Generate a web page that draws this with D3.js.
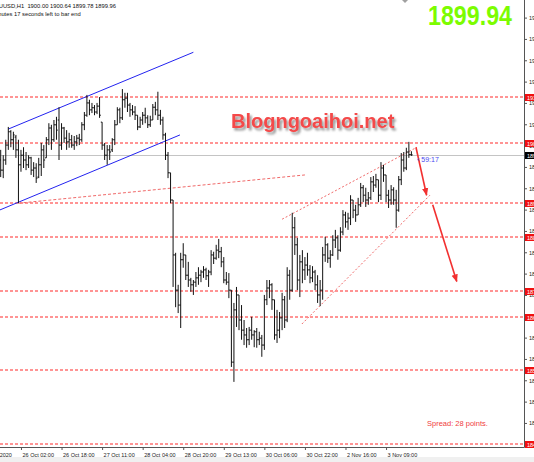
<!DOCTYPE html>
<html>
<head>
<meta charset="utf-8">
<script src="https://cdn.jsdelivr.net/npm/d3@7"></script>
<style>
  body { margin: 0; background: #fff; overflow: hidden; }
  svg { display: block; font-family: 'Liberation Sans', Arial, sans-serif; }
</style>
</head>
<body>
<div id="chart"></div>
<script>
// XAUUSD H1 bars, 23 Oct - 3 Nov 2020
const barHigh = [
  1900.9, 1899.9, 1902.8, 1905.2, 1904.6, 1904.3, 1903.7, 1902.8,
  1900.9, 1901.4, 1900.5, 1899.9, 1899.6, 1898.6, 1898.4, 1899.4,
  1902.2, 1901.8, 1903.3, 1905.9, 1905.6, 1906.5, 1907.1, 1908.9,
  1905.9, 1905.2, 1904.6, 1904.1, 1903.7, 1903.5, 1903.7, 1903.9,
  1906.1, 1908.0, 1911.2, 1910.3, 1909.7, 1909.3, 1909.7, 1910.8,
  1906.1, 1902.2, 1901.8, 1901.8, 1903.1, 1906.5, 1908.9, 1908.8,
  1912.3, 1911.6, 1911.6, 1909.7, 1909.3, 1909.1, 1907.4, 1907.1,
  1908.0, 1908.8, 1907.4, 1907.3, 1909.5, 1909.9, 1911.8, 1908.4,
  1907.1, 1904.1, 1900.5, 1896.6, 1891.5, 1881.6, 1875.6, 1881.6,
  1883.4, 1881.2, 1879.9, 1876.9, 1876.5, 1878.0, 1878.9, 1878.4,
  1879.1, 1878.8, 1878.4, 1882.1, 1881.8, 1883.1, 1884.2, 1882.7,
  1880.8, 1878.0, 1877.8, 1874.6, 1872.2, 1875.2, 1873.7, 1871.8,
  1869.0, 1867.5, 1867.7, 1869.6, 1867.1, 1867.5, 1866.8, 1866.2,
  1873.7, 1876.5, 1876.5, 1875.9, 1872.8, 1870.9, 1870.5, 1874.1,
  1873.5, 1878.9, 1878.4, 1889.1, 1888.3, 1884.4, 1881.2, 1882.1,
  1880.8, 1881.6, 1879.3, 1879.1, 1878.4, 1877.4, 1876.5, 1882.7,
  1884.6, 1883.4, 1882.1, 1884.9, 1885.9, 1884.9, 1886.4, 1889.6,
  1889.3, 1889.1, 1892.4, 1891.5, 1890.6, 1891.9, 1894.7, 1894.3,
  1893.8, 1893.0, 1895.8, 1896.0, 1896.4, 1895.3, 1898.6, 1898.1,
  1896.2, 1893.4, 1894.3, 1893.9, 1893.4, 1896.0, 1900.3, 1900.5,
  1901.3, 1902.4, 1900.64
];
const barLow = [
  1895.8, 1895.6, 1898.1, 1900.9, 1901.4, 1900.9, 1899.4, 1890.9,
  1896.8, 1897.5, 1897.1, 1897.5, 1896.2, 1895.8, 1894.7, 1895.6,
  1896.0, 1897.5, 1899.4, 1901.8, 1900.9, 1902.4, 1902.8, 1899.0,
  1900.9, 1902.2, 1900.9, 1901.3, 1901.3, 1900.9, 1901.6, 1901.8,
  1902.4, 1904.6, 1907.1, 1907.4, 1907.8, 1907.4, 1907.6, 1906.9,
  1900.9, 1899.0, 1898.1, 1899.0, 1900.5, 1901.8, 1905.6, 1905.9,
  1906.5, 1908.8, 1908.0, 1907.1, 1907.4, 1906.5, 1904.6, 1905.0,
  1905.6, 1905.9, 1905.0, 1905.2, 1906.5, 1907.4, 1906.5, 1905.6,
  1902.8, 1899.0, 1895.6, 1890.9, 1875.2, 1871.4, 1870.3, 1867.5,
  1878.8, 1876.5, 1875.2, 1874.3, 1873.7, 1875.2, 1875.6, 1876.1,
  1876.9, 1876.5, 1875.2, 1877.4, 1879.5, 1880.3, 1880.6, 1878.9,
  1875.9, 1875.6, 1873.1, 1860.2, 1857.4, 1867.7, 1867.1, 1865.3,
  1864.3, 1863.8, 1864.3, 1865.3, 1863.9, 1863.8, 1864.3, 1862.1,
  1863.4, 1871.8, 1873.1, 1870.9, 1865.3, 1864.7, 1865.6, 1867.1,
  1867.5, 1868.6, 1872.8, 1874.3, 1881.2, 1874.6, 1873.3, 1875.9,
  1876.5, 1877.3, 1875.9, 1876.1, 1874.6, 1872.2, 1871.6, 1872.8,
  1879.9, 1879.7, 1878.8, 1881.0, 1882.5, 1880.3, 1881.8, 1884.9,
  1886.3, 1885.9, 1886.8, 1888.1, 1887.4, 1888.7, 1890.2, 1891.1,
  1890.2, 1890.6, 1891.5, 1893.0, 1893.8, 1891.1, 1891.5, 1894.9,
  1891.1, 1890.0, 1890.6, 1890.6, 1886.3, 1889.3, 1894.3, 1896.8,
  1897.1, 1899.4, 1899.78
];
const barOpen = [
  1899.0, 1897.1, 1899.0, 1901.8, 1904.3, 1902.8, 1903.3, 1900.9,
  1898.1, 1899.9, 1899.0, 1898.1, 1899.4, 1897.1, 1897.5, 1895.8,
  1898.1, 1900.9, 1899.4, 1902.8, 1905.0, 1902.8, 1905.6, 1906.5,
  1901.8, 1905.0, 1903.1, 1902.4, 1902.8, 1901.8, 1902.4, 1903.1,
  1902.8, 1905.6, 1907.4, 1909.7, 1908.4, 1908.8, 1908.0, 1909.1,
  1906.1, 1901.8, 1899.9, 1900.9, 1900.9, 1902.8, 1905.6, 1908.4,
  1906.9, 1910.3, 1910.6, 1909.3, 1908.4, 1908.0, 1907.4, 1905.2,
  1906.5, 1907.4, 1906.9, 1905.6, 1906.5, 1908.9, 1908.4, 1907.4,
  1906.5, 1903.7, 1899.9, 1896.6, 1891.5, 1881.2, 1874.6, 1871.8,
  1880.3, 1881.2, 1877.4, 1876.5, 1875.6, 1876.1, 1876.9, 1877.4,
  1878.0, 1878.4, 1877.3, 1878.0, 1881.2, 1880.6, 1882.1, 1881.8,
  1879.9, 1876.5, 1876.1, 1874.6, 1861.1, 1870.9, 1873.7, 1869.0,
  1867.1, 1866.2, 1865.3, 1867.1, 1866.2, 1866.8, 1865.3, 1865.6,
  1864.3, 1872.8, 1875.0, 1875.6, 1872.8, 1866.2, 1867.1, 1869.4,
  1872.8, 1869.0, 1877.4, 1874.6, 1886.3, 1883.1, 1876.5, 1879.9,
  1878.4, 1879.3, 1878.4, 1876.9, 1878.0, 1875.6, 1873.7, 1874.6,
  1881.2, 1883.1, 1880.6, 1881.2, 1884.0, 1884.4, 1882.1, 1885.5,
  1888.7, 1887.4, 1888.1, 1891.5, 1889.6, 1888.7, 1890.6, 1893.8,
  1892.4, 1891.5, 1891.9, 1894.9, 1894.3, 1895.3, 1892.4, 1897.5,
  1896.2, 1892.4, 1891.5, 1893.4, 1891.5, 1889.6, 1895.3, 1899.0,
  1897.5, 1900.5, 1900.00
];
const barClose = [
  1897.1, 1899.0, 1901.8, 1904.3, 1902.8, 1903.7, 1900.9, 1898.1,
  1899.9, 1899.0, 1898.1, 1899.4, 1897.1, 1897.5, 1895.6, 1898.1,
  1900.9, 1899.0, 1902.8, 1905.0, 1902.8, 1905.6, 1904.6, 1901.8,
  1905.0, 1903.1, 1902.4, 1902.8, 1901.8, 1902.4, 1903.1, 1902.8,
  1905.6, 1907.4, 1909.7, 1908.4, 1908.8, 1908.0, 1909.1, 1907.4,
  1901.8, 1899.9, 1900.9, 1900.5, 1902.8, 1905.6, 1908.4, 1906.9,
  1910.3, 1910.6, 1909.3, 1908.4, 1908.0, 1907.4, 1905.2, 1906.5,
  1907.4, 1906.9, 1905.6, 1906.5, 1908.9, 1908.4, 1907.4, 1906.5,
  1903.7, 1899.9, 1896.6, 1891.5, 1881.2, 1874.6, 1871.8, 1880.3,
  1881.2, 1877.4, 1876.5, 1875.6, 1876.1, 1876.9, 1877.4, 1878.0,
  1878.4, 1877.3, 1878.0, 1881.2, 1880.6, 1882.1, 1881.8, 1879.9,
  1876.5, 1876.1, 1874.6, 1861.1, 1870.9, 1873.7, 1869.0, 1867.1,
  1866.2, 1865.3, 1867.1, 1866.2, 1866.8, 1865.3, 1865.6, 1864.3,
  1872.8, 1875.0, 1875.6, 1872.8, 1866.2, 1867.1, 1869.4, 1872.8,
  1869.0, 1877.4, 1874.6, 1886.3, 1883.1, 1876.5, 1879.9, 1878.4,
  1879.3, 1878.4, 1876.9, 1878.0, 1875.6, 1873.7, 1874.6, 1881.2,
  1883.1, 1880.6, 1881.2, 1884.0, 1884.4, 1882.1, 1885.5, 1888.7,
  1887.4, 1888.1, 1891.5, 1889.6, 1888.7, 1890.6, 1893.8, 1892.4,
  1891.5, 1891.9, 1894.9, 1894.3, 1895.3, 1892.4, 1897.5, 1896.2,
  1892.4, 1891.5, 1893.4, 1891.5, 1889.6, 1895.3, 1899.0, 1897.5,
  1900.5, 1900.0, 1899.96
];

const timeLabels = ['23 Oct 2020', '26 Oct 02:00', '26 Oct 18:00', '27 Oct 11:00',
  '28 Oct 04:00', '28 Oct 20:00', '29 Oct 13:00', '30 Oct 06:00',
  '30 Oct 22:00', '2 Nov 16:00', '3 Nov 09:00'];
const timeLabelBars = [-8, 8, 24, 40, 56, 72, 88, 104, 120, 136, 152];

const priceTicks = [1925.70, 1921.70, 1917.70, 1913.70, 1909.70, 1905.70, 1901.70,
  1897.70, 1893.70, 1889.70, 1885.70, 1881.70, 1877.70, 1873.70, 1869.70,
  1865.70, 1861.70, 1857.70, 1853.70, 1849.70];
const levelPrices = [1910.80, 1902.20, 1890.90, 1884.60, 1874.40, 1869.60, 1859.60, 1845.75];
const lastPrice = 1899.94;
const lastBar = ['XAUUSD,H1', 1900.00, 1900.64, 1899.78, 1899.96];

// drawn objects: [bar index, price] pairs
const channelUpper = [[3.0, 1904.8], [76.0, 1919.2]];
const channelLower = [[-1.0, 1889.5], [70.7, 1903.7]];
const trendRed = [[7.0, 1890.9], [120.0, 1896.2]];
const wedgeUpper = [[111.0, 1887.9], [164.2, 1901.4]];
const wedgeLower = [[118.8, 1868.25], [169.3, 1892.4]];
const arrowOne = [[163.8, 1901.4], [168.0, 1892.4]];
const arrowTwo = [[170.4, 1890.6], [179.9, 1876.2]];

const totalWidth = 534;
const totalHeight = 462;
const plotRight = 524;
const plotBottom = 447;

let x = d3.scaleLinear().domain([0, 162]).range([0.7, 411.4]);
let y = d3.scaleLinear().domain([1929, 1845.19]).range([0, plotBottom]);

let svg = d3.select('#chart').append('svg')
    .attr('width', totalWidth)
    .attr('height', totalHeight);

let defs = svg.append('defs');
defs.append('clipPath').attr('id', 'plot-clip')
  .append('rect')
    .attr('x', 0).attr('y', 0)
    .attr('width', plotRight).attr('height', plotBottom);
defs.append('filter').attr('id', 'shadow')
    .attr('x', '-10%').attr('y', '-30%').attr('width', '130%').attr('height', '170%')
  .append('feDropShadow')
    .attr('dx', 2).attr('dy', 2.5)
    .attr('stdDeviation', 1.3)
    .attr('flood-color', '#777')
    .attr('flood-opacity', 0.75);
defs.append('marker').attr('id', 'arrow-head')
    .attr('viewBox', '0 0 10 10')
    .attr('refX', 9).attr('refY', 5)
    .attr('markerWidth', 5).attr('markerHeight', 5)
    .attr('orient', 'auto')
  .append('path')
    .attr('d', 'M0,1 L10,5 L0,9 Z')
    .attr('fill', '#f23030');

svg.append('rect')
    .attr('x', 0).attr('y', 457)
    .attr('width', totalWidth).attr('height', totalHeight - 457)
    .attr('fill', '#f0f0f0');

let plot = svg.append('g').attr('clip-path', 'url(#plot-clip)');

// horizontal levels, drawn soft like the scaled screenshot
plot.selectAll('.level').data(levelPrices).enter().append('line')
    .attr('class', 'level')
    .attr('x1', 0).attr('x2', plotRight)
    .attr('y1', function(d) { return Math.round(y(d)); })
    .attr('y2', function(d) { return Math.round(y(d)); })
    .style('stroke', '#ff2a2a')
    .style('stroke-width', '1.2px')
    .style('stroke-dasharray', '3,2');

// bid line
plot.append('line')
    .attr('x1', 0).attr('x2', plotRight)
    .attr('y1', Math.round(y(lastPrice)) + 0.5)
    .attr('y2', Math.round(y(lastPrice)) + 0.5)
    .attr('stroke', '#c4c4c4')
    .attr('stroke-width', 1);

function segment(pts, color, dash, width) {
  return plot.append('line')
      .attr('x1', x(pts[0][0])).attr('y1', y(pts[0][1]))
      .attr('x2', x(pts[1][0])).attr('y2', y(pts[1][1]))
      .attr('stroke', color)
      .attr('stroke-width', width)
      .attr('stroke-dasharray', dash);
}

segment(channelUpper, '#2323f0', null, 1);
segment(channelLower, '#2323f0', null, 1);
segment(trendRed, '#f06a6a', '3,2', 1);
segment(wedgeUpper, '#f06a6a', '2,2', 1);
segment(wedgeLower, '#f06a6a', '2,2', 1);

// OHLC bars
let idx = d3.range(barHigh.length);
let bars = plot.selectAll('.bar').data(idx).enter().append('g')
    .attr('class', 'bar')
    .attr('stroke', '#111')
    .attr('stroke-width', 1);
bars.append('line')
    .attr('x1', function(i) { return x(i); })
    .attr('x2', function(i) { return x(i); })
    .attr('y1', function(i) { return y(barHigh[i]); })
    .attr('y2', function(i) { return y(barLow[i]); });
bars.append('line')
    .attr('x1', function(i) { return x(i) - 1.3; })
    .attr('x2', function(i) { return x(i); })
    .attr('y1', function(i) { return y(barOpen[i]); })
    .attr('y2', function(i) { return y(barOpen[i]); });
bars.append('line')
    .attr('x1', function(i) { return x(i); })
    .attr('x2', function(i) { return x(i) + 1.3; })
    .attr('y1', function(i) { return y(barClose[i]); })
    .attr('y2', function(i) { return y(barClose[i]); });

segment(arrowOne, '#f23030', null, 1.6).attr('marker-end', 'url(#arrow-head)');
segment(arrowTwo, '#f23030', null, 1.6).attr('marker-end', 'url(#arrow-head)');

// price axis
let axisRight = svg.append('g')
    .attr('transform', 'translate(' + (plotRight + 0.5) + ',0)')
    .call(d3.axisRight(y).tickValues(priceTicks).tickSize(2.5).tickPadding(2)
      .tickFormat(d3.format('.2f')));
axisRight.select('.domain').attr('d', 'M0,0V' + (plotBottom + 0.5)).attr('stroke', '#555');
axisRight.selectAll('.tick line').attr('stroke', '#555');
axisRight.selectAll('.tick text')
    .attr('font-size', '5.5px')
    .attr('font-family', "'Liberation Sans', Arial, sans-serif")
    .attr('fill', '#222');

// level labels
let levelLabels = svg.selectAll('.level-label').data(levelPrices).enter().append('g')
    .attr('class', 'level-label')
    .attr('transform', function(d) {
      return 'translate(' + (plotRight + 1) + ',' + Math.round(y(d)) + ')';
    });
levelLabels.append('rect')
    .attr('x', 0).attr('y', -3)
    .attr('width', 12).attr('height', 7)
    .attr('fill', '#f01010');
levelLabels.append('text')
    .attr('x', 2).attr('y', 2.6)
    .attr('font-size', '5.5px')
    .attr('fill', '#fff')
    .text(function(d) { return d3.format('.2f')(d); });

let bidLabel = svg.append('g')
    .attr('transform', 'translate(' + (plotRight + 1) + ',' + Math.round(y(lastPrice)) + ')');
bidLabel.append('rect')
    .attr('x', 0).attr('y', -3)
    .attr('width', 12).attr('height', 7)
    .attr('fill', '#000');
bidLabel.append('text')
    .attr('x', 2).attr('y', 2.6)
    .attr('font-size', '5.5px')
    .attr('fill', '#fff')
    .text(d3.format('.2f')(lastPrice));

// time axis
let axisBottom = svg.append('g')
    .attr('transform', 'translate(0,' + (plotBottom + 0.5) + ')')
    .call(d3.axisBottom(x).tickValues(timeLabelBars).tickSize(2.5).tickPadding(3)
      .tickFormat(function(d, i) { return timeLabels[i]; }));
axisBottom.select('.domain').attr('d', 'M0,0H' + (plotRight + 0.5)).attr('stroke', '#555');
axisBottom.selectAll('.tick line').attr('stroke', '#555');
axisBottom.selectAll('.tick text')
    .attr('text-anchor', 'start')
    .attr('dx', 1)
    .attr('font-size', '5.5px')
    .attr('font-family', "'Liberation Sans', Arial, sans-serif")
    .attr('fill', '#222');

// header texts
svg.append('text')
    .attr('x', -9).attr('y', 8)
    .attr('font-size', '5.8px')
    .attr('fill', '#111')
    .attr('xml:space', 'preserve')
    .text(lastBar[0] + '  ' + lastBar.slice(1).map(d3.format('.2f')).join(' '));
svg.append('text')
    .attr('x', -16).attr('y', 16)
    .attr('font-size', '5.8px')
    .attr('fill', '#111')
    .text('59 minutes 17 seconds left to bar end');

svg.append('text')
    .attr('x', 428).attr('y', 25)
    .attr('font-size', '27px')
    .attr('font-weight', 'bold')
    .attr('fill', '#7cfc00')
    .attr('textLength', 84)
    .attr('lengthAdjust', 'spacingAndGlyphs')
    .text(d3.format('.2f')(lastPrice));

svg.append('path')
    .attr('d', 'M402,0 L408,0 L405,3 Z')
    .attr('fill', '#a0a0a0');

svg.append('text')
    .attr('x', 231).attr('y', 128)
    .attr('font-size', '20px')
    .attr('font-weight', 'bold')
    .attr('fill', '#f44848')
    .attr('filter', 'url(#shadow)')
    .text('Blogngoaihoi.net');

svg.append('text')
    .attr('x', 417).attr('y', 162)
    .attr('font-size', '7px')
    .attr('fill', '#4a4af0')
    .text('\u2039 59:17');

svg.append('text')
    .attr('x', 427).attr('y', 426)
    .attr('font-size', '7.5px')
    .attr('fill', '#f04040')
    .text('Spread: 28 points.');
</script>
</body>
</html>
